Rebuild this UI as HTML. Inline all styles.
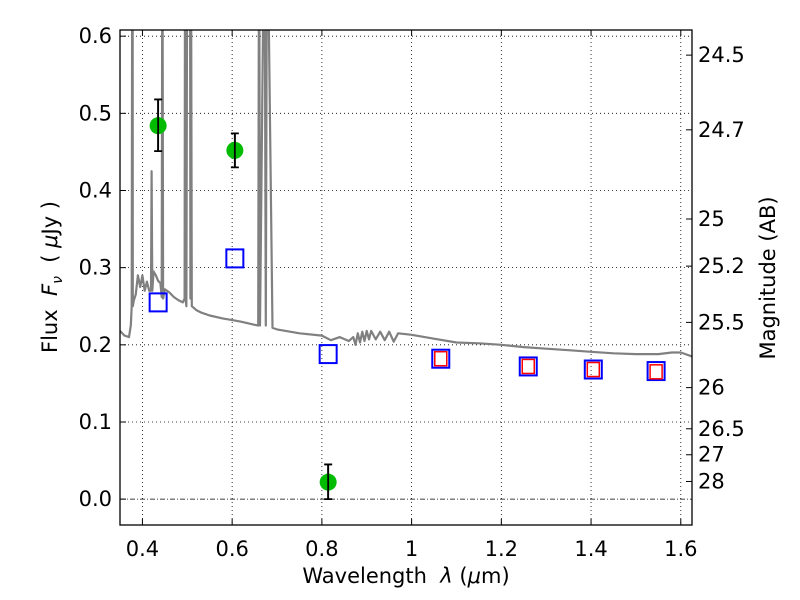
<!DOCTYPE html>
<html><head><meta charset="utf-8"><style>
body{margin:0;background:#fff}
svg{display:block;font-family:"DejaVu Sans","Liberation Sans",sans-serif}
</style></head><body>
<svg id="chart" width="800" height="600"></svg>
<script>
const specWave=[0.35,0.36,0.37,0.374,0.376,0.3775,0.378,0.3785,0.381,0.385,0.39,0.395,0.40,0.405,0.41,0.415,0.419,0.4205,0.422,0.425,0.43,0.435,0.44,0.443,0.4445,0.446,0.45,0.46,0.47,0.48,0.49,0.494,0.495,0.496,0.498,0.5,0.506,0.507,0.508,0.51,0.52,0.53,0.55,0.58,0.6,0.62,0.65,0.658,0.66,0.662,0.672,0.675,0.678,0.69,0.7,0.75,0.8,0.82,0.84,0.86,0.87,0.875,0.88,0.885,0.89,0.895,0.9,0.905,0.91,0.92,0.93,0.94,0.95,0.96,0.97,1.0,1.05,1.1,1.15,1.2,1.25,1.3,1.35,1.4,1.45,1.5,1.55,1.58,1.6,1.625];
const specFlux=[0.218,0.212,0.21,0.225,0.25,0.8,0.8,0.25,0.258,0.265,0.29,0.275,0.29,0.27,0.282,0.27,0.27,0.425,0.27,0.295,0.29,0.283,0.28,0.262,0.8,0.26,0.272,0.268,0.262,0.258,0.255,0.26,0.8,0.26,0.25,0.8,0.8,0.26,0.8,0.25,0.245,0.242,0.238,0.234,0.232,0.23,0.226,0.225,0.8,0.225,0.8,0.225,0.8,0.222,0.22,0.215,0.212,0.206,0.21,0.205,0.21,0.2,0.215,0.203,0.217,0.205,0.218,0.207,0.218,0.207,0.217,0.206,0.217,0.204,0.215,0.213,0.208,0.203,0.202,0.2,0.197,0.195,0.193,0.191,0.189,0.188,0.188,0.19,0.19,0.185];
const obsWave=[0.435,0.606,0.814];
const obsFlux=[0.484,0.452,0.022];
const obsErrLo=[0.451,0.430,0.0];
const obsErrHi=[0.518,0.474,0.045];
const modelWave=[0.435,0.606,0.814,1.065,1.26,1.405,1.545];
const modelFlux=[0.255,0.312,0.188,0.182,0.172,0.168,0.166];
const nirWave=[1.065,1.26,1.405,1.545];
const nirFlux=[0.182,0.172,0.168,0.165];
const xTicks=[0.4,0.6,0.8,1.0,1.2,1.4,1.6];
const xTickLabels=["0.4","0.6","0.8","1","1.2","1.4","1.6"];
const yTicks=[0,0.1,0.2,0.3,0.4,0.5,0.6];
const yTickLabels=["0.0","0.1","0.2","0.3","0.4","0.5","0.6"];
const magTicks=[24.5,24.7,25,25.2,25.5,26,26.5,27,28];
const magLabels=["24.5","24.7","25","25.2","25.5","26","26.5","27","28"];

const L=120,R=692,T=30,B=525,X0=0.35,X1=1.625,Y0=-0.0335,Y1=0.608;
const xs=v=>L+(v-X0)/(X1-X0)*(R-L);
const ys=v=>B-(v-Y0)/(Y1-Y0)*(B-T);
const NS="http://www.w3.org/2000/svg";
const svg=document.getElementById('chart');
function mk(tag,at,parent){const e=document.createElementNS(NS,tag);for(const k in at)e.setAttribute(k,at[k]);(parent||svg).appendChild(e);return e;}
const defs=mk('defs',{});const cp=mk('clipPath',{id:'clip'},defs);mk('rect',{x:L,y:T,width:R-L,height:B-T},cp);

xTicks.forEach(v=>{const g=mk('line',{x1:xs(v),x2:xs(v),y1:T,y2:B,stroke:'#000','stroke-width':0.8,'stroke-dasharray':'1,3'});

});
yTicks.forEach(v=>{const g=mk('line',{x1:L,x2:R,y1:ys(v),y2:ys(v),stroke:'#000','stroke-width':0.8,'stroke-dasharray':v===0?'5,2,1,2':'1,3'});

});

const gp=mk('g',{'clip-path':'url(#clip)'});
let d='';specWave.forEach((w,i)=>{d+=(i?'L':'M')+xs(w).toFixed(1)+','+ys(specFlux[i]).toFixed(1);});
const sp=mk('path',{d:d,fill:'none',stroke:'#808080','stroke-width':2.2,'stroke-linejoin':'round'},gp);



modelWave.forEach((w,i)=>{const r=mk('rect',{x:xs(w)-8.5,y:ys(modelFlux[i])-9,width:17,height:18,fill:'none',stroke:'#0000ff','stroke-width':2});

});
nirWave.forEach((w,i)=>{const r=mk('rect',{x:xs(w)-6,y:ys(nirFlux[i])-7,width:12,height:14,fill:'none',stroke:'#ff0000','stroke-width':1.5});

});

obsWave.forEach((w,i)=>{const x=xs(w);
const e=mk('path',{d:`M${x},${ys(obsErrLo[i])}V${ys(obsErrHi[i])}M${x-4},${ys(obsErrLo[i])}h8M${x-4},${ys(obsErrHi[i])}h8`,stroke:'#000','stroke-width':1.8,fill:'none'});


const c=mk('circle',{cx:x,cy:ys(obsFlux[i]),r:8.5,fill:'#00bb00'});


mk('line',{x1:x,x2:x,y1:ys(obsErrLo[i]),y2:ys(obsErrHi[i]),stroke:'#000','stroke-width':1.8});});

const fr=mk('rect',{x:L,y:T,width:R-L,height:B-T,fill:'none',stroke:'#000','stroke-width':1.3});



xTicks.forEach((v,i)=>{const x=xs(v);mk('line',{x1:x,x2:x,y1:B,y2:B-6,stroke:'#000'});mk('line',{x1:x,x2:x,y1:T,y2:T+6,stroke:'#000'});
const t=mk('text',{x:x,y:556,'font-size':21,'text-anchor':'middle'});t.textContent=xTickLabels[i];

});
yTicks.forEach((v,i)=>{const y=ys(v);mk('line',{x1:L,x2:L+6,y1:y,y2:y,stroke:'#000'});
const t=mk('text',{x:112,y:y+7,'font-size':21,'text-anchor':'end'});t.textContent=yTickLabels[i];

});
magTicks.forEach((m,i)=>{const y=ys(Math.pow(10,(23.9-m)/2.5));mk('line',{x1:R-6,x2:R,y1:y,y2:y,stroke:'#000'});
const t=mk('text',{x:698,y:y+7,'font-size':21});t.textContent=magLabels[i];

});
</script>
<div style="position:absolute;left:0;top:0;width:800px;height:600px;pointer-events:none;font-family:'DejaVu Sans','Liberation Sans',sans-serif">
<div style="position:absolute;left:0;width:812px;top:564px;text-align:center;font-size:21px">Wavelength&nbsp; <i>λ</i> (<i>μ</i>m)</div>
<div style="position:absolute;left:52px;top:277px;width:0;height:0"><div style="position:absolute;transform:translate(-50%,-50%) rotate(-90deg);white-space:nowrap;font-size:21px">Flux&nbsp; <i>F<sub style="font-size:14px">ν</sub></i>&nbsp; ( <i>μ</i>Jy )</div></div>
<div style="position:absolute;left:768px;top:278px;width:0;height:0"><div style="position:absolute;transform:translate(-50%,-50%) rotate(-90deg);white-space:nowrap;font-size:21px">Magnitude (AB)</div></div>
</div>
</body></html>
